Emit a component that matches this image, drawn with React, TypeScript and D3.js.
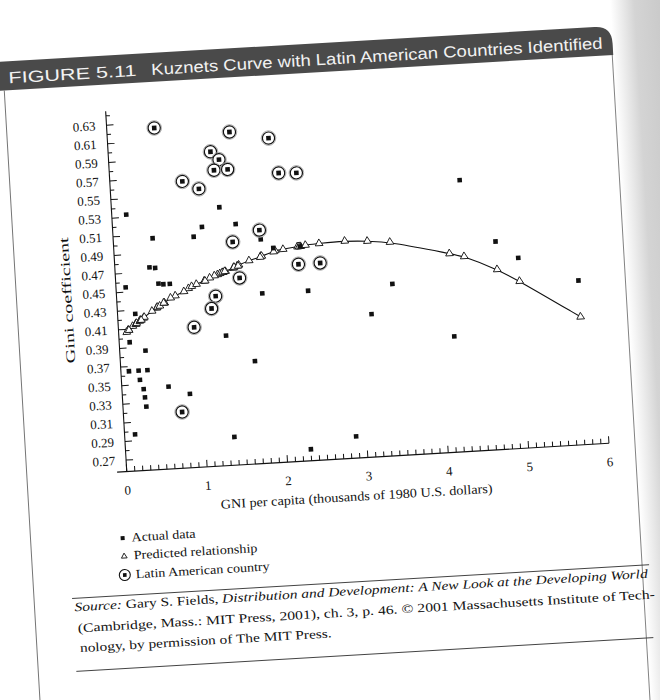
import React from 'react';
import * as d3 from 'd3';

// Latin American countries (circled)
const latinGni = [0.59, 1.52, 2.0, 1.27, 1.37, 1.3, 1.47, 2.1, 2.32, 0.9, 1.1, 1.82, 1.48, 2.28, 2.55, 1.54, 1.23, 1.17, 0.94, 0.73];
const latinGini = [0.624, 0.615, 0.606, 0.595, 0.586, 0.575, 0.575, 0.568, 0.567, 0.565, 0.556, 0.508, 0.497, 0.469, 0.469, 0.458, 0.44, 0.427, 0.408, 0.318];
const latinPredicted = [0.436, 0.471, 0.485, 0.463, 0.466, 0.464, 0.469, 0.486, 0.488, 0.45, 0.457, 0.48, 0.47, 0.488, 0.49, 0.472, 0.462, 0.46, 0.452, 0.443];

// Other countries (actual data)
const otherGni = [0.18, 1.34, 1.11, 1.53, 0.49, 1.0, 1.83, 1.98, 2.31, 0.43, 0.5, 0.53, 0.59, 0.67, 0.12, 1.81, 2.38, 0.22, 0.13, 1.33, 0.32, 0.1, 0.22, 0.33, 1.67, 0.23, 0.27, 0.28, 0.29, 0.58, 0.84, 0.13, 1.36, 2.87, 2.3, 4.34, 4.74, 5.01, 5.74, 3.43, 3.15, 4.16];
const otherGini = [0.533, 0.535, 0.515, 0.516, 0.506, 0.505, 0.498, 0.488, 0.488, 0.475, 0.474, 0.457, 0.456, 0.456, 0.455, 0.44, 0.44, 0.426, 0.396, 0.397, 0.386, 0.365, 0.365, 0.365, 0.368, 0.355, 0.345, 0.336, 0.326, 0.346, 0.337, 0.297, 0.288, 0.281, 0.27, 0.549, 0.481, 0.462, 0.434, 0.442, 0.411, 0.382];
const otherPredicted = [0.413, 0.465, 0.457, 0.471, 0.431, 0.454, 0.48, 0.484, 0.488, 0.428, 0.432, 0.433, 0.436, 0.441, 0.409, 0.479, 0.489, 0.415, 0.409, 0.465, 0.421, 0.407, 0.415, 0.422, 0.476, 0.416, 0.418, 0.419, 0.419, 0.436, 0.447, 0.409, 0.466, 0.491, 0.488, 0.467, 0.451, 0.437, 0.395, 0.487, 0.4895, 0.471];

const xTickLabels = ['0', '1', '2', '3', '4', '5', '6'];
const yTickLabels = ['0.27', '0.29', '0.31', '0.33', '0.35', '0.37', '0.39', '0.41', '0.43', '0.45', '0.47', '0.49', '0.51', '0.53', '0.55', '0.57', '0.59', '0.61', '0.63'];
const legendLabels = ['Actual data', 'Predicted relationship', 'Latin American country'];

const SERIF = '"Liberation Serif", "DejaVu Serif", serif';
const SANS = '"Liberation Sans", "DejaVu Sans", sans-serif';

export default function App() {
  const x = d3.scaleLinear().domain([0, 6]).range([120, 603]);
  const y = d3.scaleLinear().domain([0.27, 0.63]).range([448, 112.5]);
  const yBottom = 0.2577;
  const yTop = 0.645;
  const xLeft = -0.12;

  const xMinor = d3.range(0, 61).map((i) => i / 10);
  const yMinor = d3.range(27, 65).map((i) => i / 100);

  type P = { g: number; p: number };
  const allPred: P[] = [
    ...latinGni.map((g, i) => ({ g, p: latinPredicted[i] })),
    ...otherGni.map((g, i) => ({ g, p: otherPredicted[i] })),
  ];
  const sorted = d3.sort(allPred, (d) => d.g);
  const uniq: P[] = [];
  sorted.forEach((d) => {
    if (!uniq.length || Math.abs(uniq[uniq.length - 1].g - d.g) > 1e-6) uniq.push(d);
  });
  const line = d3
    .line<P>()
    .x((d) => x(d.g))
    .y((d) => y(d.p))
    .curve(d3.curveBasis);

  const tri = d3.symbol(d3.symbolTriangle, 26)() as string;
  const sq = 4.6;

  const ink = '#111';

  return (
    <svg
      width={660}
      height={700}
      style={{ position: 'absolute', left: 0, top: 0, background: '#fff' }}
      xmlns="http://www.w3.org/2000/svg"
    >
      <defs>
        <linearGradient id="shade" x1="0" x2="1" y1="0" y2="0">
          <stop offset="0" stopColor="#ffffff" />
          <stop offset="0.2" stopColor="#d4d4d4" />
          <stop offset="1" stopColor="#b0b0b0" />
        </linearGradient>
      </defs>
      <rect x={0} y={0} width={660} height={700} fill="#fff" />
      <g transform="rotate(-3.35 330 350)">
        {/* page shadow at right */}
        <rect x={630} y={-60} width={120} height={820} fill="url(#shade)" />

        {/* box border */}
        <line x1={20} y1={72} x2={20} y2={760} stroke="#555" strokeWidth={0.8} />
        <line x1={629} y1={60} x2={629} y2={760} stroke="#666" strokeWidth={0.8} />

        {/* title bar */}
        <path d="M 14 43 L 613 43 Q 630 43 630 60 L 630 72 L 14 72 Z" fill="#4a4a4a" />
        <text x={25} y={65} fontFamily={SANS} fontSize={16} fill="#f2f2f2" textLength={128} lengthAdjust="spacingAndGlyphs">
          FIGURE 5.11
        </text>
        <text x={168} y={65} fontFamily={SANS} fontSize={16} fill="#f2f2f2" textLength={452} lengthAdjust="spacingAndGlyphs">
          Kuznets Curve with Latin American Countries Identified
        </text>

        {/* y axis */}
        <line x1={x(0)} x2={x(0)} y1={y(yBottom)} y2={y(yTop)} stroke={ink} strokeWidth={1.1} />
        {yMinor.map((v) => {
          const labeled = Math.round(v * 100) % 2 === 1;
          return (
            <line key={'yt' + v} x1={x(0)} x2={x(0) + (labeled ? 7 : 4)} y1={y(v)} y2={y(v)} stroke={ink} strokeWidth={1} />
          );
        })}
        {yTickLabels.map((t) => (
          <text key={'yl' + t} x={x(0) - 11} y={y(+t) + 4.5} textAnchor="end" fontFamily={SERIF} fontSize={13} fill={ink}>
            {t}
          </text>
        ))}
        <text
          transform={`translate(75 285) rotate(-90)`}
          textAnchor="middle"
          fontFamily={SERIF}
          fontSize={13}
          fill={ink}
          textLength={126}
          lengthAdjust="spacingAndGlyphs"
        >
          Gini coefficient
        </text>

        {/* x axis */}
        <line x1={x(xLeft)} x2={x(6)} y1={y(yBottom)} y2={y(yBottom)} stroke={ink} strokeWidth={1.1} />
        {xMinor.map((v) => {
          const major = Math.abs(v - Math.round(v)) < 1e-6;
          return (
            <line key={'xt' + v} x1={x(v)} x2={x(v)} y1={y(yBottom)} y2={y(yBottom) - (major ? 7 : 5)} stroke={ink} strokeWidth={1} />
          );
        })}
        {xTickLabels.map((t) => (
          <text key={'xl' + t} x={x(+t)} y={y(yBottom) + 23} textAnchor="middle" fontFamily={SERIF} fontSize={13} fill={ink}>
            {t}
          </text>
        ))}
        <text x={348} y={502} textAnchor="middle" fontFamily={SERIF} fontSize={13} fill={ink} textLength={272} lengthAdjust="spacingAndGlyphs">
          GNI per capita (thousands of 1980 U.S. dollars)
        </text>

        {/* predicted curve */}
        <path d={line(uniq) as string} fill="none" stroke={ink} strokeWidth={1.1} />
        {allPred.map((d, i) => (
          <path key={'tr' + i} d={tri} transform={`translate(${x(d.g)} ${y(d.p)})`} fill="#fff" stroke={ink} strokeWidth={0.9} />
        ))}

        {/* actual data */}
        {otherGni.map((g, i) => (
          <rect key={'o' + i} x={x(g) - sq / 2} y={y(otherGini[i]) - sq / 2} width={sq} height={sq} fill={ink} />
        ))}

        {/* Latin American countries */}
        {latinGni.map((g, i) => (
          <g key={'l' + i} transform={`translate(${x(g)} ${y(latinGini[i])})`}>
            <circle r={7.3} fill="none" stroke="#9a9a9a" strokeWidth={0.8} />
            <circle r={6.1} fill="#fff" stroke={ink} strokeWidth={1.2} />
            <rect x={-sq / 2} y={-sq / 2} width={sq} height={sq} fill={ink} />
          </g>
        ))}

        {/* legend */}
        <rect x={112 - 2} y={525.6 - 2} width={4} height={4} fill={ink} />
        <text x={121} y={529.5} fontFamily={SERIF} fontSize={12.5} fill={ink} textLength={64} lengthAdjust="spacingAndGlyphs">
          {legendLabels[0]}
        </text>
        <path d={d3.symbol(d3.symbolTriangle, 14)() as string} transform="translate(112.5 544)" fill="#fff" stroke={ink} strokeWidth={0.9} />
        <text x={122} y={547.5} fontFamily={SERIF} fontSize={12.5} fill={ink} textLength={124} lengthAdjust="spacingAndGlyphs">
          {legendLabels[1]}
        </text>
        <g transform="translate(112 562.6)">
          <circle r={5.5} fill="#fff" stroke={ink} strokeWidth={1.1} />
          <rect x={-1.8} y={-1.8} width={3.6} height={3.6} fill={ink} />
        </g>
        <text x={123} y={566.5} fontFamily={SERIF} fontSize={12.5} fill={ink} textLength={134} lengthAdjust="spacingAndGlyphs">
          {legendLabels[2]}
        </text>

        {/* source note */}
        <line x1={58} x2={636} y1={583} y2={583} stroke="#333" strokeWidth={0.9} />
        <text x={60} y={596} fontFamily={SERIF} fontSize={12.5} fill={ink} textLength={574} lengthAdjust="spacingAndGlyphs">
          <tspan fontStyle="italic">Source:</tspan> Gary S. Fields,{' '}
          <tspan fontStyle="italic">Distribution and Development: A New Look at the Developing World</tspan>
        </text>
        <text x={62} y={617} fontFamily={SERIF} fontSize={12.5} fill={ink} textLength={578} lengthAdjust="spacingAndGlyphs">
          (Cambridge, Mass.: MIT Press, 2001), ch. 3, p. 46. © 2001 Massachusetts Institute of Tech-
        </text>
        <text x={63} y={637} fontFamily={SERIF} fontSize={12.5} fill={ink} textLength={252} lengthAdjust="spacingAndGlyphs">
          nology, by permission of The MIT Press.
        </text>
        <line x1={58} x2={636} y1={656} y2={656} stroke="#333" strokeWidth={0.9} />
      </g>
    </svg>
  );
}
